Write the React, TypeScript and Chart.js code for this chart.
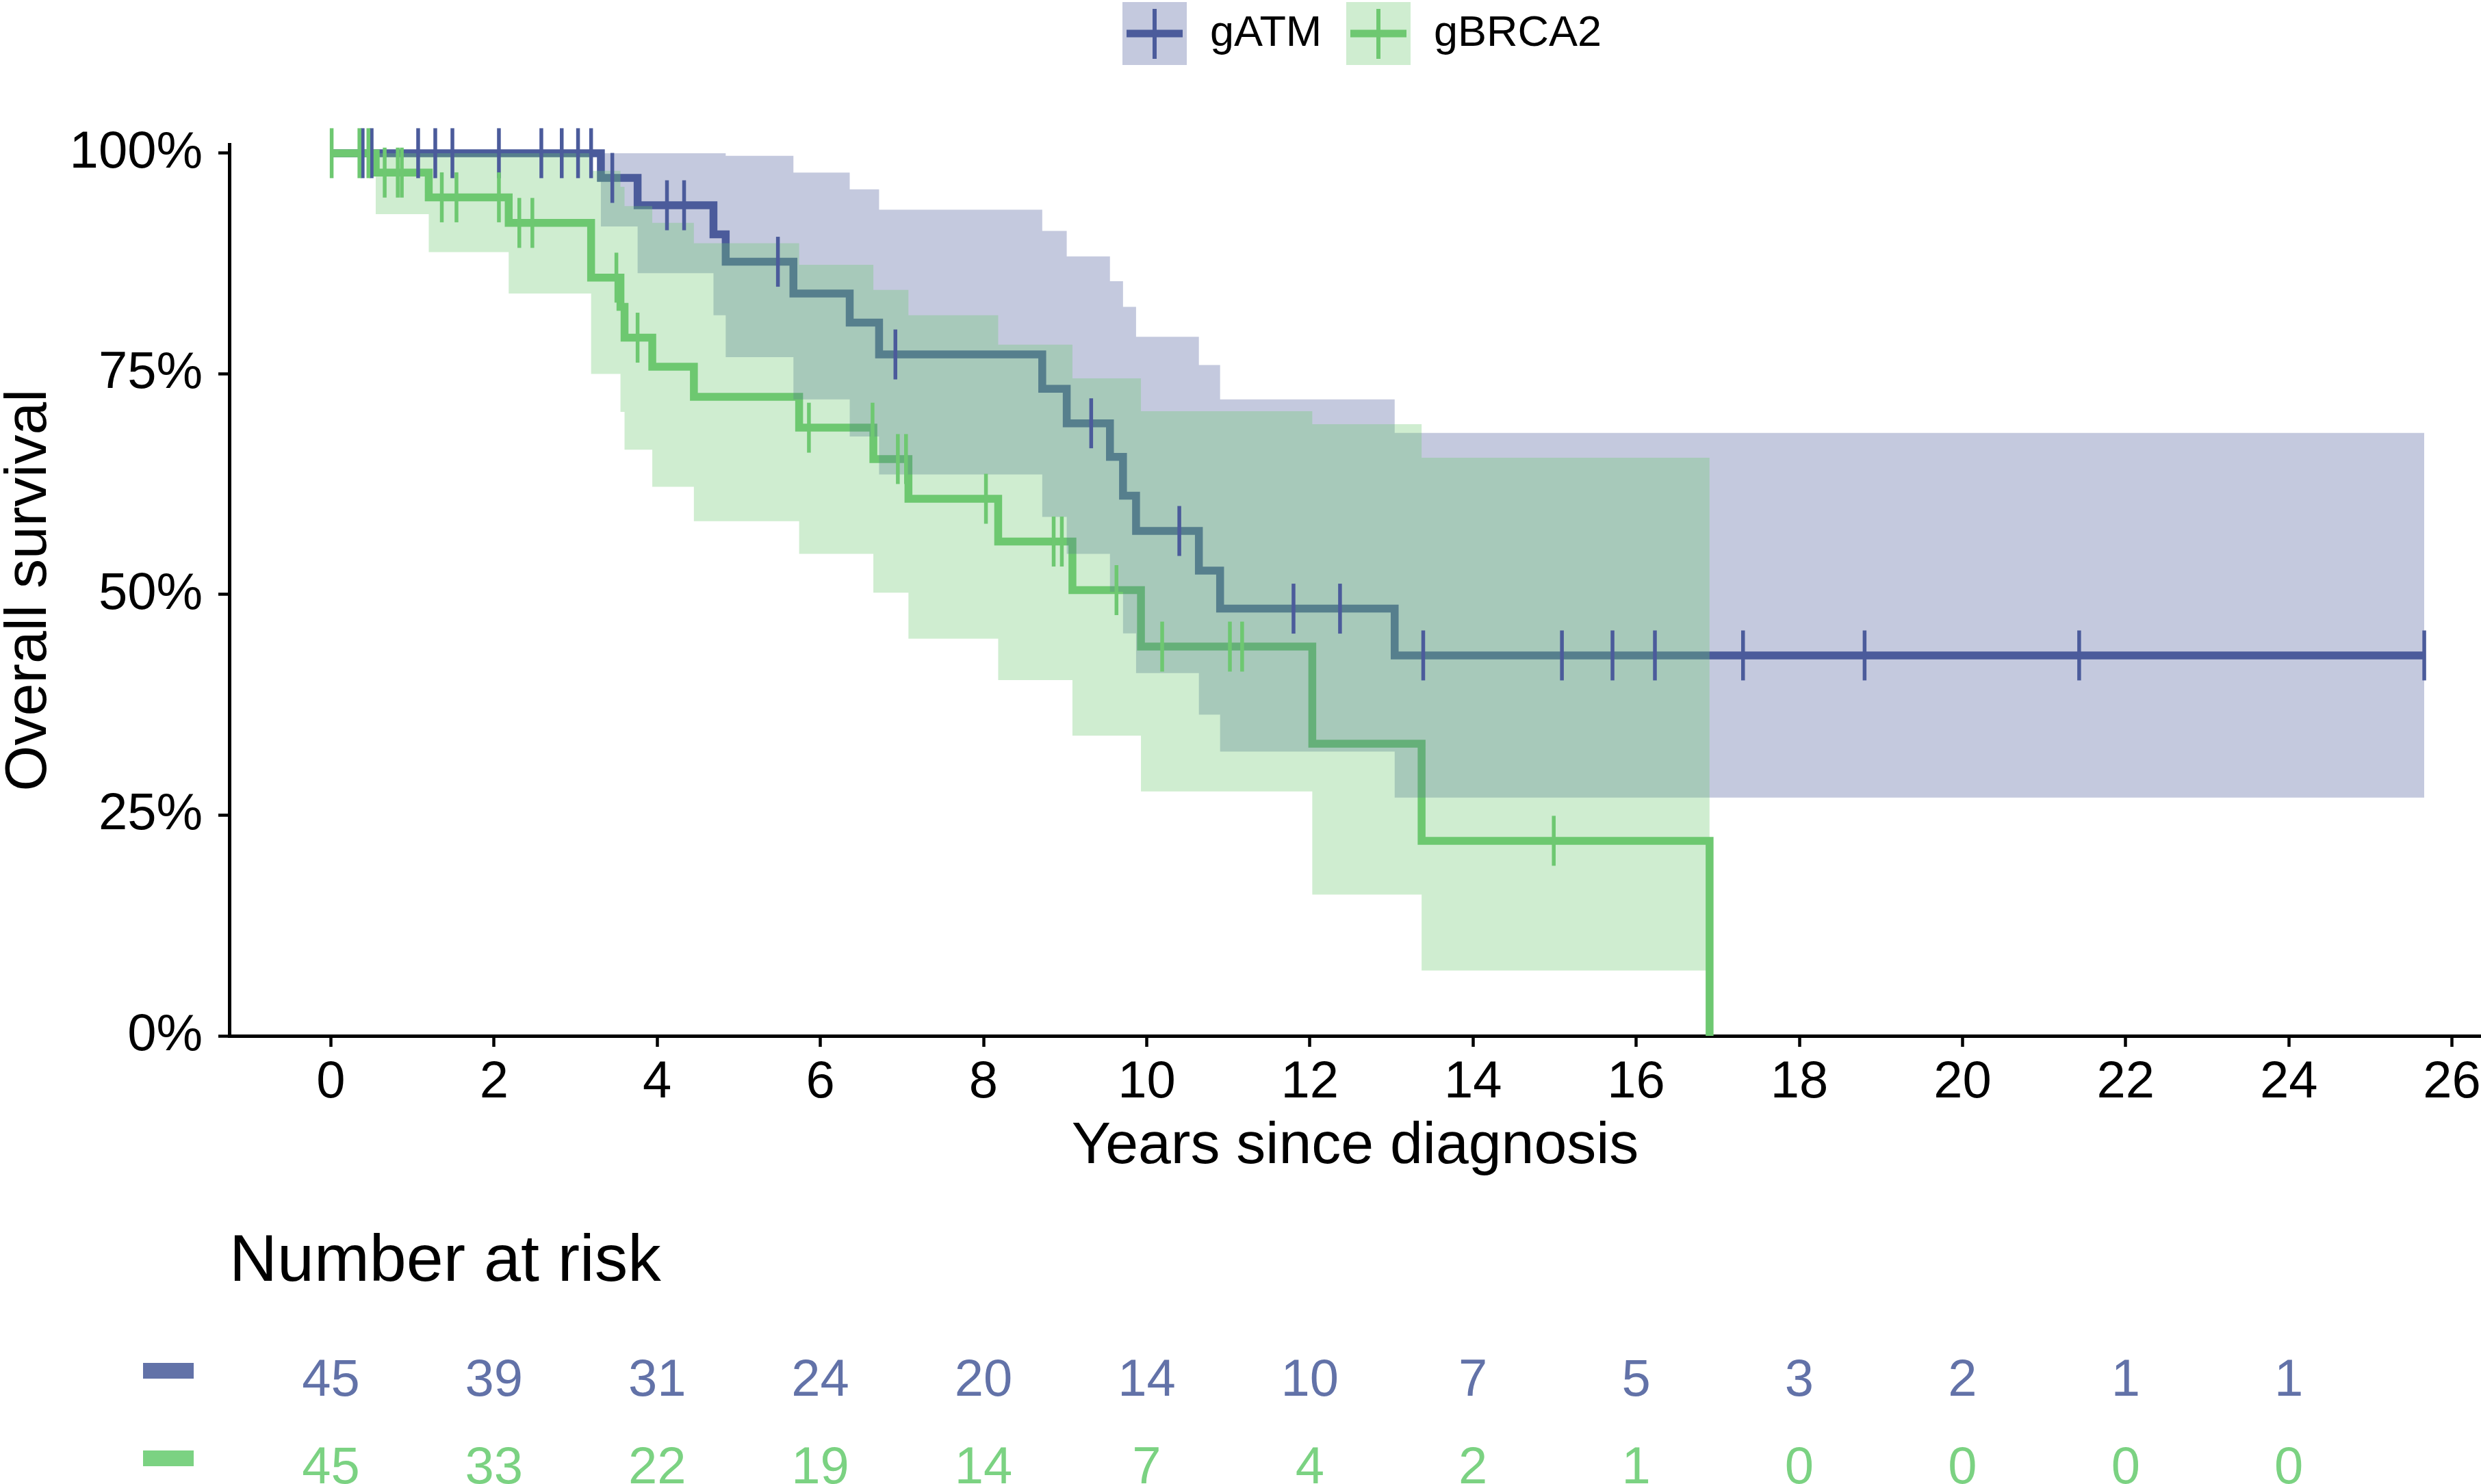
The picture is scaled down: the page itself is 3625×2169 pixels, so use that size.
import React, { useEffect, useRef } from 'react';
import { Chart, registerables } from 'chart.js';

Chart.register(...registerables);

const FONT = "'Liberation Sans', Arial, Helvetica, sans-serif";
const BLUE = '#4B5B9B';
const GREEN = '#6EC871';
const BLUE_FILL = 'rgba(75,91,155,0.33)';
const GREEN_FILL = 'rgba(110,200,113,0.33)';
const BLUE_TEXT = '#6272A8';
const GREEN_TEXT = '#7BD282';

const seriesNames = ['gATM', 'gBRCA2'];

// gATM Kaplan-Meier estimate (step times, survival, 95% CI)
const atmTimes = [0, 3.31, 3.76, 4.69, 4.84, 5.67, 6.36, 6.72, 8.72, 9.02, 9.55, 9.71, 9.87, 10.64, 10.9, 13.04, 25.66];
const atmSurv = [1, 0.972, 0.941, 0.908, 0.877, 0.841, 0.808, 0.772, 0.733, 0.694, 0.656, 0.612, 0.572, 0.527, 0.484, 0.431, 0.431];
const atmUpper = [1, 1, 1, 1, 0.997, 0.978, 0.959, 0.936, 0.912, 0.883, 0.855, 0.826, 0.792, 0.76, 0.721, 0.683, 0.683];
const atmLower = [1, 0.917, 0.864, 0.8165, 0.769, 0.721, 0.679, 0.636, 0.588, 0.546, 0.503, 0.456, 0.411, 0.364, 0.322, 0.27, 0.27];
const atmCensor = [0.39, 0.5, 1.07, 1.28, 1.49, 2.06, 2.58, 2.83, 3.03, 3.19, 3.45, 4.12, 4.33, 5.48, 6.92, 9.32, 10.4, 11.8, 12.37, 13.39, 15.09, 15.71, 16.23, 17.31, 18.8, 21.43, 25.66];

// gBRCA2 Kaplan-Meier estimate
const brcaTimes = [0, 0.55, 1.2, 2.18, 3.19, 3.55, 3.6, 3.94, 4.45, 5.74, 6.65, 7.08, 8.18, 9.09, 9.93, 12.03, 13.37, 16.9];
const brcaSurv = [1, 0.978, 0.95, 0.921, 0.859, 0.826, 0.791, 0.758, 0.724, 0.689, 0.6535, 0.6085, 0.56, 0.505, 0.441, 0.331, 0.221, 0];
const brcaUpper = [1, 1, 1, 1, 0.98, 0.962, 0.94, 0.921, 0.898, 0.8736, 0.845, 0.8165, 0.783, 0.745, 0.7077, 0.693, 0.655, 0.655];
const brcaLower = [1, 0.931, 0.888, 0.841, 0.75, 0.707, 0.664, 0.622, 0.583, 0.546, 0.502, 0.45, 0.403, 0.34, 0.277, 0.16, 0.074, 0.074];
const brcaCensor = [0.01, 0.35, 0.46, 0.66, 0.82, 0.87, 1.36, 1.54, 2.06, 2.31, 2.47, 3.5, 3.76, 5.86, 6.64, 6.95, 7.05, 8.03, 8.86, 8.96, 9.63, 10.19, 11.02, 11.17, 14.99];

// axes and risk table
const xTicks = [0, 2, 4, 6, 8, 10, 12, 14, 16, 18, 20, 22, 24, 26];
const yTicks = [0, 0.25, 0.5, 0.75, 1];
const riskTimes = [0, 2, 4, 6, 8, 10, 12, 14, 16, 18, 20, 22, 24];
const atmRisk = [45, 39, 31, 24, 20, 14, 10, 7, 5, 3, 2, 1, 1];
const brcaRisk = [45, 33, 22, 19, 14, 7, 4, 2, 1, 0, 0, 0, 0];

const VIEW_W = 3625;
const CANVAS_W = 3800;
const H = 2169;

const stepAt = (times: number[], vals: number[], t: number) => {
  let v = vals[0];
  for (let i = 0; i < times.length; i++) if (times[i] <= t) v = vals[i];
  return v;
};
const pts = (times: number[], vals: number[]) => times.map((t, i) => ({ x: t, y: vals[i] }));
const censorPts = (c: number[], times: number[], vals: number[]) => c.map((t) => ({ x: t, y: stepAt(times, vals, t) }));

const extrasPlugin = {
  id: 'kmExtras',
  afterDraw(chart: any) {
    const { ctx, chartArea } = chart;
    const xs = chart.scales.x;
    ctx.save();
    // x-axis title, centred on the visible panel
    ctx.fillStyle = '#000';
    ctx.font = `86px ${FONT}`;
    ctx.textAlign = 'center';
    ctx.textBaseline = 'middle';
    ctx.fillText('Years since diagnosis', (chartArea.left + VIEW_W) / 2, 1676);

    // Legend (top)
    const keys = [
      { label: seriesNames[0], fill: BLUE_FILL, color: BLUE, box: 1640, text: 1768 },
      { label: seriesNames[1], fill: GREEN_FILL, color: GREEN, box: 1967, text: 2095 },
    ];
    keys.forEach((k) => {
      ctx.fillStyle = k.fill;
      ctx.fillRect(k.box, 3, 94, 92);
      ctx.strokeStyle = k.color;
      ctx.lineWidth = 11;
      ctx.beginPath();
      ctx.moveTo(k.box + 6, 49);
      ctx.lineTo(k.box + 88, 49);
      ctx.stroke();
      ctx.lineWidth = 6;
      ctx.beginPath();
      ctx.moveTo(k.box + 47, 13);
      ctx.lineTo(k.box + 47, 86);
      ctx.stroke();
      ctx.fillStyle = '#000';
      ctx.font = `63px ${FONT}`;
      ctx.textAlign = 'left';
      ctx.textBaseline = 'middle';
      ctx.fillText(k.label, k.text, 50);
    });

    // Risk table
    ctx.fillStyle = '#000';
    ctx.font = `97px ${FONT}`;
    ctx.textAlign = 'left';
    ctx.textBaseline = 'alphabetic';
    ctx.fillText('Number at risk', 335, 1872);

    const rows = [
      { vals: atmRisk, color: BLUE_TEXT, base: 2040, bar: 1992 },
      { vals: brcaRisk, color: GREEN_TEXT, base: 2168, bar: 2120 },
    ];
    rows.forEach((r) => {
      ctx.fillStyle = r.color;
      ctx.fillRect(209, r.bar, 74, 23);
      ctx.font = `76px ${FONT}`;
      ctx.textAlign = 'center';
      ctx.textBaseline = 'alphabetic';
      riskTimes.forEach((t, i) => {
        ctx.fillText(String(r.vals[i]), xs.getPixelForValue(t), r.base);
      });
    });
    ctx.restore();
  },
};

export default function App() {
  const ref = useRef<HTMLCanvasElement | null>(null);
  useEffect(() => {
    document.body.style.margin = '0';
    document.body.style.overflow = 'hidden';
    const canvas = ref.current;
    if (!canvas) return;
    Chart.defaults.font.family = FONT;
    const lineBase = { pointRadius: 0, stepped: true, clip: false as any, fill: false };
    const pxPerYear = 119.2;
    const xMin = -1.245;
    const xMax = xMin + (CANVAS_W - 335) / pxPerYear;
    const chart = new Chart(canvas, {
      type: 'line',
      data: {
        datasets: [
          { ...lineBase, label: 'gATM', data: pts(atmTimes, atmSurv), borderColor: BLUE, borderWidth: 11.5, order: 10 },
          { ...lineBase, label: 'gBRCA2', data: pts(brcaTimes, brcaSurv), borderColor: GREEN, borderWidth: 11.5, order: 9 },
          { ...lineBase, label: 'gATM upper', data: pts(atmTimes, atmUpper), borderColor: 'rgba(0,0,0,0)', borderWidth: 0, fill: '+1', backgroundColor: BLUE_FILL, order: 8 },
          { ...lineBase, label: 'gATM lower', data: pts(atmTimes, atmLower), borderColor: 'rgba(0,0,0,0)', borderWidth: 0, order: 7 },
          { ...lineBase, label: 'gBRCA2 upper', data: pts(brcaTimes, brcaUpper), borderColor: 'rgba(0,0,0,0)', borderWidth: 0, fill: '+1', backgroundColor: GREEN_FILL, order: 6 },
          { ...lineBase, label: 'gBRCA2 lower', data: pts(brcaTimes, brcaLower), borderColor: 'rgba(0,0,0,0)', borderWidth: 0, order: 5 },
          {
            label: 'gATM censored', data: censorPts(atmCensor, atmTimes, atmSurv), showLine: false,
            pointStyle: 'line', pointRotation: 90, pointRadius: 36.5, pointBorderWidth: 5.5,
            pointBorderColor: BLUE, borderColor: BLUE, clip: false as any, order: 2,
          },
          {
            label: 'gBRCA2 censored', data: censorPts(brcaCensor, brcaTimes, brcaSurv), showLine: false,
            pointStyle: 'line', pointRotation: 90, pointRadius: 36.5, pointBorderWidth: 5.5,
            pointBorderColor: GREEN, borderColor: GREEN, clip: false as any, order: 1,
          },
        ] as any,
      },
      options: {
        responsive: false,
        animation: false,
        devicePixelRatio: 1,
        events: [],
        layout: { autoPadding: false, padding: { top: 211, bottom: 450, left: 0, right: 0 } },
        plugins: { legend: { display: false }, tooltip: { enabled: false } },
        scales: {
          x: {
            type: 'linear',
            min: xMin,
            max: xMax,
            afterBuildTicks: (s: any) => { s.ticks = xTicks.map((v) => ({ value: v })); },
            afterFit: (s: any) => { s.height = 205; },
            ticks: { color: '#000', font: { size: 76 }, padding: 7, maxRotation: 0, autoSkip: false, callback: (v: any) => String(v) },
            grid: { drawOnChartArea: false, drawTicks: true, tickLength: 16, tickWidth: 4.5, tickColor: '#000' },
            border: { display: true, color: '#000', width: 5 },
            title: { display: false },
          },
          y: {
            type: 'linear',
            min: 0,
            max: 1.01,
            afterBuildTicks: (s: any) => { s.ticks = yTicks.map((v) => ({ value: v })); },
            afterFit: (s: any) => { s.width = 335; },
            ticks: { color: '#000', font: { size: 76 }, padding: 23, callback: (v: any) => `${Math.round(Number(v) * 100)}%` },
            grid: { drawOnChartArea: false, drawTicks: true, tickLength: 16, tickWidth: 4.5, tickColor: '#000' },
            border: { display: true, color: '#000', width: 5 },
            title: { display: true, text: 'Overall survival', color: '#000', font: { size: 86, lineHeight: 1.0 }, padding: 0 },
          },
        },
      } as any,
      plugins: [extrasPlugin],
    });
    return () => chart.destroy();
  }, []);
  return (
    <div style={{ width: VIEW_W, height: H, background: '#fff', overflow: 'hidden' }}>
      <canvas ref={ref} width={CANVAS_W} height={H} style={{ display: 'block' }} />
    </div>
  );
}
